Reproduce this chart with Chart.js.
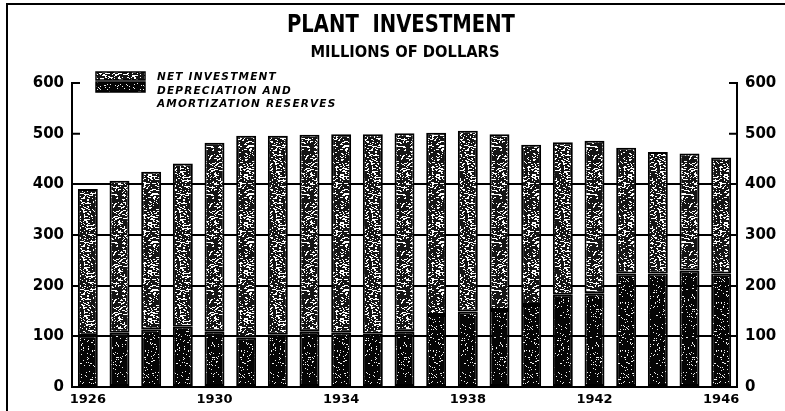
<!DOCTYPE html>
<html>
<head>
<meta charset="utf-8">
<script src="https://cdn.jsdelivr.net/npm/chart.js@4"></script>
<style>
  html, body { margin: 0; padding: 0; background: #fff; }
  #wrap { width: 785px; height: 411px; }
</style>
</head>
<body>
<div id="wrap"><canvas id="plant" width="785" height="411"></canvas></div>
<script>
// values (millions of dollars)
const years = ['1926','1927','1928','1929','1930','1931','1932','1933','1934','1935','1936',
               '1937','1938','1939','1940','1941','1942','1943','1944','1945','1946'];
const depreciation = [101,107,114,119,109,97,103,109,107,105,109,142,149,152,162,182,185,224,224,230,224];
const netInvestment = [290,300,311,322,373,399,393,389,392,394,392,360,357,347,316,301,301,248,240,231,229];
const xTickLabels = ['1926','1930','1934','1938','1942','1946'];
const yTicks = [0,100,200,300,400,500,600];

const FONT = '"DejaVu Sans", "Liberation Sans", sans-serif';

// speckled print textures (style only)
let seed = 20231;
function rnd(){ seed = (seed * 1664525 + 1013904223) >>> 0; return seed / 4294967296; }
function speckle(bg, fg, p, size){
  const c = document.createElement('canvas');
  c.width = 48; c.height = 48;
  const g = c.getContext('2d');
  g.fillStyle = bg; g.fillRect(0,0,48,48);
  g.fillStyle = fg;
  for(let y=0;y<48;y++) for(let x=0;x<48;x++) if(rnd() < p) g.fillRect(x,y,size,1);
  return g.createPattern(c, 'repeat');
}
const lightFill = speckle('#ffffff', '#151515', 0.48, 2);
const darkFill = speckle('#050505', '#f0f0f0', 0.08, 1);

function fitText(ctx, text, cx, cy, font, w){
  ctx.save();
  ctx.font = font;
  const m = ctx.measureText(text).width;
  ctx.translate(cx, cy);
  ctx.scale(w / m, 1);
  ctx.textAlign = 'center'; ctx.textBaseline = 'middle';
  ctx.fillText(text, 0, 0);
  ctx.restore();
}

const decor = {
  id: 'decor',
  afterDraw(chart){
    const ctx = chart.ctx;
    const y = chart.scales.y;
    const a = chart.chartArea;
    ctx.save();
    ctx.fillStyle = '#000'; ctx.strokeStyle = '#000';
    // frame
    ctx.lineWidth = 2;
    ctx.beginPath(); ctx.moveTo(7, 411); ctx.lineTo(7, 4); ctx.lineTo(785, 4); ctx.stroke();
    // titles
    fitText(ctx, 'PLANT  INVESTMENT', 401, 26, 'bold 24px "DejaVu Sans Condensed", ' + FONT, 228);
    fitText(ctx, 'MILLIONS OF DOLLARS', 405, 53, 'bold 15px "DejaVu Sans Condensed", ' + FONT, 189);
    // inward tick marks at 500 / 600
    [500, 600].forEach(v => {
      const py = y.getPixelForValue(v);
      ctx.beginPath();
      ctx.moveTo(a.left, py); ctx.lineTo(a.left + 8, py);
      ctx.moveTo(a.right - 8, py); ctx.lineTo(a.right, py);
      ctx.stroke();
    });
    // legend
    const items = [
      { fill: lightFill, y0: 72, h: 8, text: ['NET INVESTMENT'] },
      { fill: darkFill, y0: 82, h: 10, text: ['DEPRECIATION AND', 'AMORTIZATION RESERVES'] }
    ];
    ctx.font = 'italic bold 10.5px ' + FONT;
    if('letterSpacing' in ctx) ctx.letterSpacing = '1.2px';
    ctx.textBaseline = 'middle'; ctx.textAlign = 'left';
    const lineY = [77, 91, 104];
    let li = 0;
    items.forEach(it => {
      ctx.fillStyle = it.fill;
      ctx.fillRect(96, it.y0, 49, it.h);
      ctx.lineWidth = 1.5; ctx.strokeRect(96, it.y0, 49, it.h);
      ctx.fillStyle = '#000';
      it.text.forEach(t => { ctx.fillText(t, 157, lineY[li++]); });
    });
    ctx.restore();
  }
};

new Chart(document.getElementById('plant'), {
  type: 'bar',
  data: {
    labels: years,
    datasets: [
      { label: 'Depreciation and Amortization Reserves', data: depreciation,
        backgroundColor: darkFill, borderColor: '#000', borderWidth: 2, borderSkipped: false },
      { label: 'Net Investment', data: netInvestment,
        backgroundColor: lightFill, borderColor: '#000', borderWidth: 2, borderSkipped: false }
    ]
  },
  options: {
    responsive: false,
    animation: false,
    layout: { padding: { top: 83, bottom: 0, left: 0, right: 0 } },
    datasets: { bar: { categoryPercentage: 1, barPercentage: 0.63 } },
    plugins: { legend: { display: false }, title: { display: false }, tooltip: { enabled: false } },
    scales: {
      x: {
        stacked: true,
        grid: { display: false, drawTicks: false },
        border: { color: '#000', width: 2 },
        ticks: {
          autoSkip: false, maxRotation: 0, padding: 5, color: '#000',
          font: { family: FONT, size: 13, weight: 'bold' },
          callback: (v, i) => xTickLabels.includes(years[i]) ? years[i] : ''
        },
        afterFit: s => { s.height = 24; }
      },
      y: {
        stacked: true, position: 'left', min: 0, max: 600,
        afterBuildTicks: s => { s.ticks = yTicks.map(v => ({ value: v })); },
        ticks: { color: '#000', padding: 8, font: { family: FONT, size: 15, weight: 'bold' } },
        grid: {
          drawTicks: false, lineWidth: 2,
          color: c => (c.tick && c.tick.value >= 100 && c.tick.value <= 400) ? '#000' : 'rgba(0,0,0,0)'
        },
        border: { color: '#000', width: 2 },
        afterFit: s => { s.width = 72; }
      },
      y2: {
        position: 'right', min: 0, max: 600,
        afterBuildTicks: s => { s.ticks = yTicks.map(v => ({ value: v })); },
        ticks: { color: '#000', padding: 8, font: { family: FONT, size: 15, weight: 'bold' } },
        grid: { drawOnChartArea: false, drawTicks: false },
        border: { color: '#000', width: 2 },
        afterFit: s => { s.width = 48; }
      }
    }
  },
  plugins: [decor]
});
</script>
</body>
</html>
